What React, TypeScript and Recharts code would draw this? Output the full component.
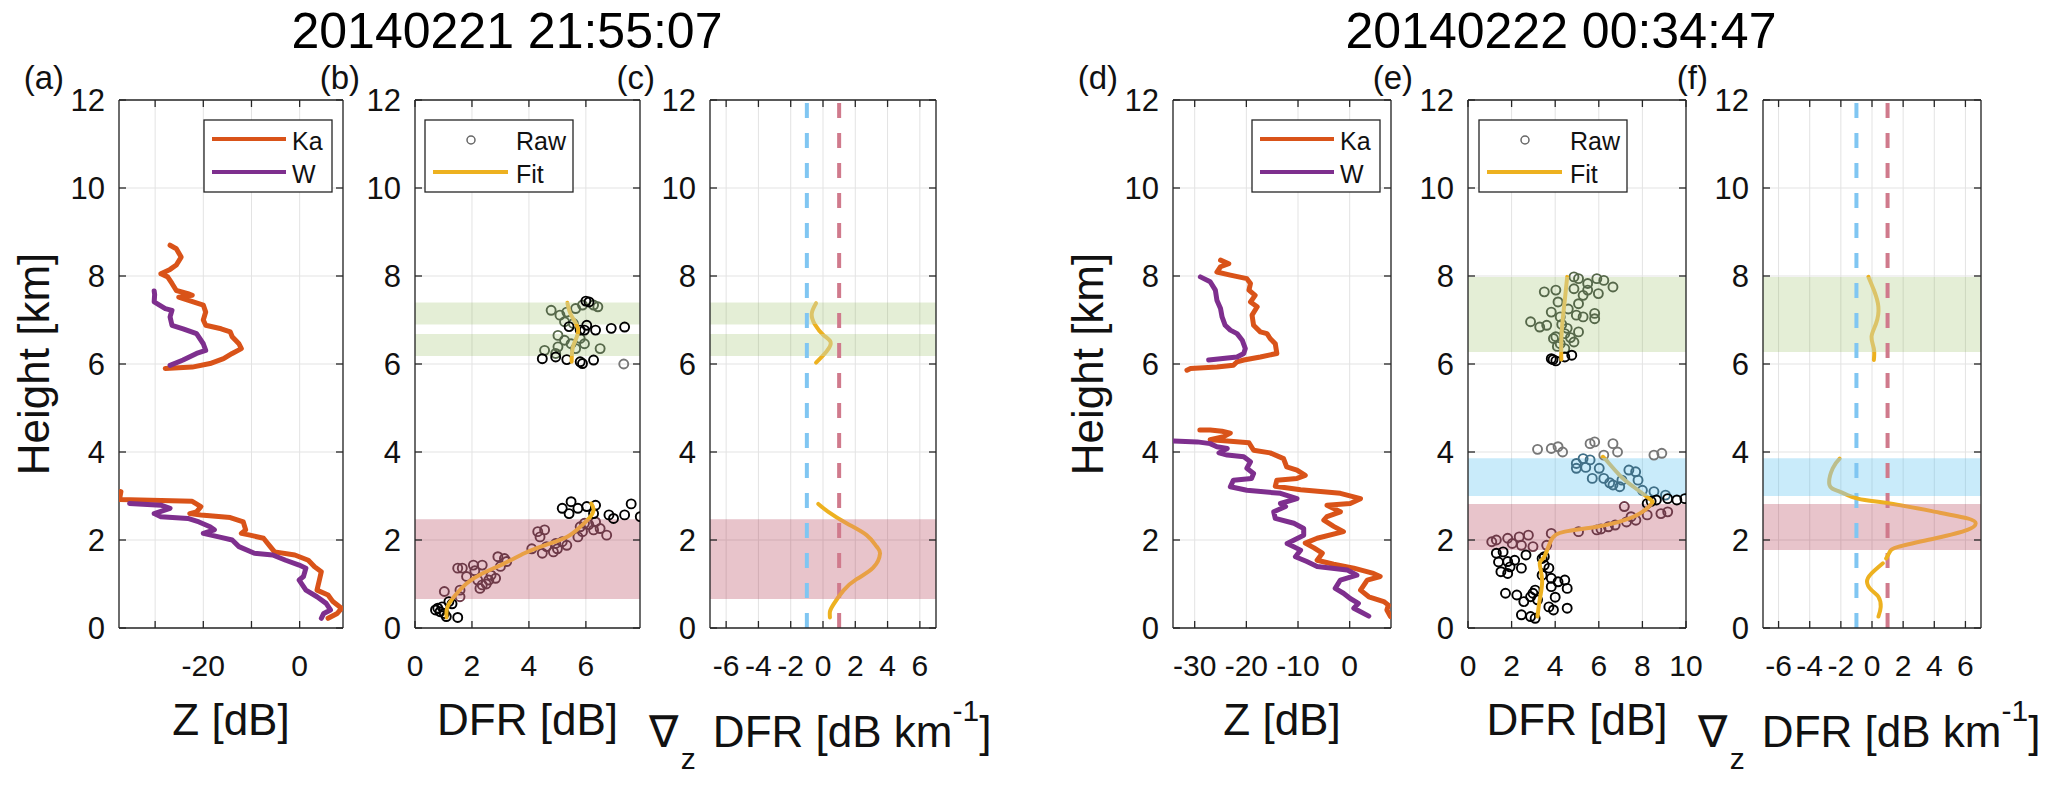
import React from "react";
import { ScatterChart, Scatter, XAxis, YAxis, CartesianGrid, ReferenceArea, ReferenceLine } from "recharts";

type Pt = { x: number; h: number };
const pts = (a: number[][]): Pt[] => a.map(([x, h]) => ({ x, h }));

// height ticks shared by all panels
const heightTicks = [0, 2, 4, 6, 8, 10, 12];

// x ticks / labels per panel
const zTicksA = [-30, -20, -10, 0];
const zLabelsA = ["", "-20", "", "0"];
const dfrTicksB = [0, 2, 4, 6];
const gradTicks = [-6, -4, -2, 0, 2, 4, 6];
const zTicksD = [-30, -20, -10, 0];
const dfrTicksE = [0, 2, 4, 6, 8, 10];
const gradThresholds = [-1, 1];

// (a) reflectivity profiles, 20140221 21:55:07
const kaUpperA = pts([[-26.9,8.70],[-25.6,8.62],[-24.6,8.43],[-25.6,8.25],[-26.9,8.15],[-28.8,8.05],[-27.4,7.98],[-26.5,7.83],[-25.6,7.67],[-23.2,7.60],[-22.3,7.56],[-25.1,7.52],[-23.2,7.45],[-20.0,7.34],[-19.5,7.18],[-20.0,7.00],[-19.5,6.88],[-16.3,6.80],[-14.4,6.73],[-14.0,6.62],[-12.6,6.46],[-12.1,6.35],[-14.0,6.24],[-15.8,6.12],[-18.6,6.01],[-22.3,5.93],[-27.9,5.90]]);
const wUpperA = pts([[-30.2,7.66],[-30.1,7.58],[-30.2,7.41],[-27.9,7.26],[-26.5,7.22],[-26.9,7.07],[-26.5,6.88],[-24.2,6.80],[-21.4,6.69],[-20.0,6.46],[-19.5,6.31],[-21.4,6.24],[-24.2,6.09],[-26.9,5.97]]);
const kaLowerA = pts([[-37.1,3.10],[-37.4,2.92],[-22.3,2.88],[-20.5,2.76],[-21.4,2.64],[-22.8,2.60],[-20.5,2.57],[-14.4,2.51],[-11.7,2.41],[-11.2,2.23],[-12.1,2.15],[-10.3,2.11],[-7.5,2.04],[-6.1,1.85],[-5.2,1.73],[-1.0,1.66],[1.8,1.54],[3.1,1.39],[4.5,1.28],[4.1,1.09],[3.6,0.86],[5.9,0.75],[6.9,0.60],[8.7,0.45],[7.8,0.33],[5.9,0.22]]);
const wLowerA = pts([[-35.3,2.83],[-28.8,2.79],[-26.9,2.72],[-30.2,2.60],[-28.8,2.53],[-23.2,2.49],[-20.9,2.41],[-18.6,2.30],[-17.7,2.23],[-20.0,2.15],[-16.8,2.07],[-14.0,2.00],[-12.6,1.85],[-9.4,1.70],[-5.6,1.66],[-2.9,1.54],[-0.1,1.43],[1.3,1.36],[0.8,1.17],[-0.1,1.09],[1.3,0.86],[3.6,0.71],[5.5,0.56],[6.4,0.41],[5.0,0.33],[4.5,0.22]]);

// (b) DFR raw and fit
const rawB = pts([[0.72,0.41],[0.88,0.37],[1.03,0.33],[1.10,0.26],[1.50,0.24],[0.95,0.48],[1.19,0.60],[1.58,0.71],[1.30,0.55],[0.80,0.45],
  [1.03,0.83],[1.58,0.86],[1.50,1.36],[1.66,1.36],[1.81,1.17],[2.05,1.43],[2.36,1.43],[2.20,1.09],[2.36,0.98],[2.28,0.90],[2.59,1.09],[2.83,1.13],[2.67,1.20],[2.91,1.62],[3.14,1.58],[3.22,1.51],[4.31,2.19],[4.55,2.23],[4.39,2.07],[4.62,1.85],[4.47,1.70],[4.86,1.73],[4.94,1.92],[5.33,1.88],[5.17,1.96],[5.72,2.07],[5.88,2.19],[6.27,2.23],[6.34,2.41],[5.95,2.38],[6.73,2.11],[6.50,2.26],[5.80,2.30],[2.10,1.30],[2.50,1.00],[3.00,1.40],[4.10,1.80],[5.00,1.80],[6.10,2.35],
  [5.17,2.72],[5.48,2.87],[5.41,2.60],[5.72,2.72],[6.03,2.76],[6.34,2.79],[6.81,2.57],[7.36,2.57],[7.59,2.82],[7.91,2.53],[6.97,2.49],[6.27,2.60],
  [4.78,7.22],[5.09,7.11],[5.33,7.18],[5.64,7.26],[5.88,7.34],[6.27,7.34],[6.42,7.30],[5.25,6.96],[5.56,6.92],[5.02,6.65],[5.25,6.54],[5.48,6.46],[5.80,6.58],[5.95,6.46],[5.02,6.39],[4.55,6.31],[4.94,6.24],[6.50,6.35],[5.64,6.35],
  [5.41,6.85],[5.80,6.77],[6.03,6.88],[5.95,6.77],[6.34,6.77],[6.89,6.81],[7.36,6.84],[4.47,6.12],[4.94,6.16],[5.33,6.10],[5.80,6.05],[5.88,6.01],[6.27,6.09],[6.11,7.41],[6.00,7.43]]);
const rawOutB = pts([[7.33,6.00]]);
const fitLowerB = pts([[1.11,0.24],[1.14,0.48],[1.42,0.75],[1.81,1.01],[2.36,1.24],[3.14,1.47],[3.84,1.70],[4.55,1.88],[5.33,2.07],[5.80,2.30],[6.11,2.49],[6.27,2.68],[6.19,2.83]]);
const fitUpperB = pts([[5.35,7.39],[5.49,7.10],[5.73,6.77],[5.56,6.42],[5.50,6.05]]);

// (c) DFR gradient
const gradUpperC = pts([[-0.43,7.38],[-0.70,7.14],[-0.49,6.89],[0.02,6.66],[0.47,6.50],[0.23,6.29],[-0.43,6.03]]);
const gradLowerC = pts([[-0.29,2.82],[0.33,2.64],[1.46,2.38],[2.70,2.11],[3.32,1.85],[3.53,1.69],[3.11,1.37],[2.08,1.11],[1.26,0.85],[0.64,0.53],[0.43,0.37],[0.43,0.24]]);

// (d) reflectivity profiles, 20140222 00:34:47
const kaUpperD = pts([[-25.0,8.36],[-23.4,8.28],[-25.0,8.21],[-25.7,8.09],[-23.1,8.02],[-19.9,7.94],[-19.2,7.83],[-19.5,7.68],[-18.3,7.56],[-19.2,7.41],[-17.9,7.30],[-18.9,7.11],[-18.6,6.88],[-17.3,6.73],[-16.0,6.69],[-15.4,6.58],[-14.4,6.46],[-14.1,6.24],[-17.3,6.16],[-20.5,6.09],[-21.8,6.05],[-22.5,5.97],[-25.7,5.93],[-30.8,5.90],[-31.5,5.86]]);
const wUpperD = pts([[-28.9,7.98],[-27.0,7.87],[-26.0,7.68],[-25.7,7.45],[-25.0,7.26],[-24.7,7.07],[-24.1,6.88],[-23.1,6.77],[-21.8,6.69],[-20.8,6.54],[-20.2,6.35],[-20.5,6.24],[-21.8,6.16],[-27.3,6.09]]);
const kaLowerD = pts([[-29.0,4.50],[-27.0,4.50],[-24.7,4.47],[-23.1,4.43],[-24.4,4.35],[-27.0,4.28],[-23.7,4.25],[-19.5,4.21],[-18.6,4.04],[-15.4,3.98],[-12.8,3.85],[-12.2,3.66],[-10.2,3.59],[-8.6,3.47],[-10.2,3.40],[-14.1,3.36],[-14.4,3.22],[-9.5,3.14],[-1.8,3.06],[2.1,2.94],[0.1,2.83],[-4.4,2.79],[-1.8,2.64],[-4.4,2.53],[-5.0,2.45],[-3.1,2.31],[-1.2,2.19],[-6.3,2.04],[-8.6,1.93],[-6.9,1.82],[-5.3,1.70],[-6.3,1.54],[-3.1,1.45],[0.8,1.36],[4.6,1.24],[5.9,1.17],[3.4,1.09],[2.1,0.86],[3.7,0.71],[6.6,0.60],[7.5,0.52],[7.2,0.41],[7.9,0.26]]);
const wLowerD = pts([[-34.1,4.25],[-29.5,4.23],[-27.0,4.19],[-25.7,4.12],[-23.7,4.08],[-25.3,3.98],[-23.7,3.93],[-20.5,3.89],[-19.2,3.78],[-19.9,3.63],[-18.6,3.51],[-19.0,3.40],[-22.5,3.36],[-23.1,3.21],[-19.9,3.13],[-13.4,3.06],[-10.2,2.94],[-13.4,2.83],[-12.4,2.76],[-14.7,2.64],[-14.4,2.49],[-10.8,2.38],[-8.9,2.26],[-8.9,2.11],[-12.1,1.92],[-9.5,1.77],[-10.5,1.62],[-8.3,1.51],[-6.3,1.40],[-0.5,1.32],[1.4,1.20],[-1.8,1.09],[-2.8,0.90],[-1.2,0.79],[0.1,0.67],[1.7,0.56],[0.8,0.45],[2.1,0.37],[3.7,0.27]]);

// (e) DFR raw and fit
const rawE = pts([[3.50,7.64],[4.03,7.68],[2.87,6.96],[3.29,6.84],[3.61,6.88],[3.82,7.18],[4.13,7.41],[4.23,7.07],[3.92,6.58],[4.23,6.46],[4.44,6.35],[4.55,6.81],[4.86,6.50],[5.07,6.73],[4.97,7.11],[5.28,7.07],[5.81,7.15],[5.81,7.03],[5.07,7.37],[5.28,7.56],[5.49,7.83],[4.86,7.98],[5.07,7.94],[5.91,7.94],[6.23,7.90],[6.65,7.75],[5.98,7.60],[5.49,7.68],[4.86,7.71],[4.44,6.69],[4.03,6.62],[4.30,6.90],[4.60,7.25],[4.10,6.40],[4.70,6.60],
  [3.82,6.12],[4.03,6.07],[4.44,6.16],[4.76,6.20],[3.90,6.10],
  [4.97,3.74],[5.28,3.85],[5.60,3.82],[6.02,3.63],[5.70,3.40],[6.23,3.40],[6.65,3.25],[6.96,3.21],[7.38,3.59],[7.69,3.55],[7.80,3.36],[7.06,3.36],[8.00,3.13],[8.53,3.10],[9.06,3.02],[4.97,3.63],[5.40,3.65],[6.50,3.30],
  [8.22,2.83],[8.64,2.91],[9.16,2.94],[9.58,2.91],[9.95,2.94],[8.40,2.88],
  [7.17,2.76],[7.48,2.53],[7.27,2.41],[8.22,2.57],[8.85,2.60],[9.16,2.64],[6.44,2.30],[6.75,2.34],[5.91,2.23],[5.07,2.19],[3.82,2.15],[1.30,2.00],[1.82,2.04],[2.35,2.07],[2.77,2.11],[2.03,1.92],[2.45,1.88],[2.98,1.85],[3.61,1.88],[1.09,1.96],[7.70,2.45],[6.10,2.25],
  [1.30,1.70],[1.61,1.73],[1.82,1.51],[1.93,1.39],[1.51,1.28],[1.82,1.24],[2.45,1.36],[2.14,1.54],[2.66,1.66],[3.40,1.58],[3.50,1.43],[3.71,1.36],[3.82,1.13],[4.13,1.05],[4.44,1.09],[4.55,0.90],[3.82,0.94],[3.08,0.86],[1.72,0.79],[2.24,0.75],[2.56,0.60],[2.87,0.71],[3.19,0.64],[3.71,0.48],[3.92,0.41],[4.55,0.45],[2.45,0.30],[2.87,0.26],[3.08,0.22],[3.40,1.20],[2.98,0.79],[3.50,1.62],[1.40,1.50],[4.00,0.70]]);
const rawOutE = pts([[3.19,4.06],[3.82,4.08],[4.13,4.12],[4.34,4.00],[5.60,4.19],[5.81,4.23],[6.65,4.19],[6.86,4.00],[8.53,3.93],[8.89,3.97],[6.23,3.93]]);
const fitLowerE = pts([[3.19,0.26],[3.29,0.64],[3.40,1.09],[3.29,1.47],[3.50,1.62],[3.82,2.00],[4.44,2.19],[5.91,2.30],[7.17,2.45],[8.00,2.64],[8.43,2.83],[8.32,2.94],[7.59,3.21],[6.96,3.47],[6.33,3.82],[6.18,3.89]]);
const fitUpperE = pts([[4.55,7.98],[4.44,7.45],[4.34,6.99],[4.28,6.54],[4.28,6.10]]);

// (f) DFR gradient
const gradUpperF = pts([[-0.23,7.98],[0.12,7.68],[0.41,7.30],[0.26,6.92],[-0.03,6.62],[0.12,6.35],[0.12,6.09]]);
const gradMidF = pts([[-2.08,3.85],[-2.52,3.63],[-2.73,3.25],[-2.08,3.10],[-0.91,2.94],[1.14,2.83],[4.08,2.64],[6.13,2.49],[6.66,2.38],[6.13,2.23],[4.08,2.04],[1.73,1.85],[1.14,1.73],[0.91,1.58]]);
const gradLowF = pts([[0.70,1.47],[-0.03,1.24],[-0.32,1.05],[-0.03,0.86],[0.41,0.71],[0.56,0.48],[0.41,0.26]]);

// shaded layers (km)
type Kind = "green" | "red" | "blue";
type Band = { lo: number; hi: number; kind: Kind };
const bandsFirst: Band[] = [
  { lo: 6.18, hi: 6.68, kind: "green" },
  { lo: 6.90, hi: 7.40, kind: "green" },
  { lo: 0.66, hi: 2.47, kind: "red" },
];
const bandsSecond: Band[] = [
  { lo: 6.27, hi: 7.98, kind: "green" },
  { lo: 3.00, hi: 3.86, kind: "blue" },
  { lo: 1.77, hi: 2.82, kind: "red" },
];

const FONT = '"Liberation Sans", Arial, Helvetica, sans-serif';
const KA = "#D95319";
const W = "#7E2F8E";
const FIT = "#EDB120";
const AXIS = "#262626";
const bandFill: Record<Kind, string> = { green: "#77AC30", red: "#A2142F", blue: "#4DBEEE" };
const bandOpacity: Record<Kind, number> = { green: 0.2, red: 0.25, blue: 0.3 };
const pointInBand: Record<Kind, string> = { green: "#56684A", red: "#6E3A48", blue: "#3F6F87" };
const fitInBand: Record<Kind, string> = { green: "#DCC468", red: "#E8A045", blue: "#BCBE8C" };

const PLOT_TOP = 100;
const PLOT_H = 528;
const YW = 120;
const MT = 20;
const MR = 20;
const XH = 140;

type PanelProps = {
  x: number;
  w: number;
  domain: [number, number];
  ticks: number[];
  labels?: string[];
  children?: React.ReactNode;
};

function Panel({ x, w, domain, ticks, labels, children }: PanelProps) {
  const pl = YW;
  const pr = YW + w;
  const pt = MT;
  const pb = MT + PLOT_H;

  const XTick = (p: any) => {
    const v = p.payload.value;
    const i = ticks.indexOf(v);
    const text = labels ? labels[i] : String(v);
    return (
      <g>
        <line x1={p.x} x2={p.x} y1={pb} y2={pb - 7} stroke={AXIS} strokeWidth={1.3} />
        <line x1={p.x} x2={p.x} y1={pt} y2={pt + 7} stroke={AXIS} strokeWidth={1.3} />
        <text x={p.x} y={pb + 48} textAnchor="middle" fontSize={30} fontFamily={FONT} fill="#111">
          {text}
        </text>
      </g>
    );
  };

  const YTick = (p: any) => (
    <g>
      <line x1={pl} x2={pl + 7} y1={p.y} y2={p.y} stroke={AXIS} strokeWidth={1.3} />
      <line x1={pr - 7} x2={pr} y1={p.y} y2={p.y} stroke={AXIS} strokeWidth={1.3} />
      <text x={pl - 14} y={p.y + 11} textAnchor="end" fontSize={31} fontFamily={FONT} fill="#111">
        {p.payload.value}
      </text>
    </g>
  );

  return (
    <div style={{ position: "absolute", left: x - YW, top: PLOT_TOP - MT }}>
      <ScatterChart width={YW + w + MR} height={MT + PLOT_H + XH} margin={{ top: MT, right: MR, bottom: 0, left: 0 }}>
        <CartesianGrid stroke="#E3E3E3" />
        <XAxis
          type="number"
          dataKey="x"
          domain={domain}
          ticks={ticks}
          interval={0}
          height={XH}
          allowDataOverflow
          tickLine={false}
          axisLine={{ stroke: AXIS, strokeWidth: 1.3 }}
          tick={XTick}
        />
        <YAxis
          type="number"
          dataKey="h"
          domain={[0, 12]}
          ticks={heightTicks}
          interval={0}
          width={YW}
          allowDataOverflow
          tickLine={false}
          axisLine={{ stroke: AXIS, strokeWidth: 1.3 }}
          tick={YTick}
        />
        {children}
        <ReferenceLine y={12} stroke={AXIS} strokeWidth={1.3} />
        <ReferenceLine x={domain[1]} stroke={AXIS} strokeWidth={1.3} />
      </ScatterChart>
    </div>
  );
}

const noDot = () => <g />;

const profile = (data: Pt[], color: string, width: number, joint: "linear" | "natural", key: string, stroke?: string) => (
  <Scatter
    key={key}
    data={data}
    fill={color}
    line={{ stroke: stroke || color, strokeWidth: width, strokeLinejoin: "round", strokeLinecap: "round" }}
    lineJointType={joint}
    shape={noDot}
    isAnimationActive={false}
  />
);

const bandAreas = (bands: Band[]) =>
  bands.map((b, i) => (
    <ReferenceArea
      key={"band" + i}
      y1={b.lo}
      y2={b.hi}
      fill={bandFill[b.kind]}
      fillOpacity={bandOpacity[b.kind]}
      stroke="none"
    />
  ));

const rawPoints = (data: Pt[], bands: Band[], outlier: boolean, key: string) => {
  const colorOf = (h: number) => {
    if (outlier) return "#777777";
    const b = bands.find((bb) => h >= bb.lo && h <= bb.hi);
    return b ? pointInBand[b.kind] : "#000000";
  };
  const shape = (p: any) => (
    <circle cx={p.cx} cy={p.cy} r={4.5} fill="none" stroke={colorOf(p.payload.h)} strokeWidth={1.9} />
  );
  return <Scatter key={key} data={data} fill="#000" shape={shape} isAnimationActive={false} />;
};

const thresholdLines = () => [
  <ReferenceLine key="t0" x={gradThresholds[0]} stroke="#80C6F2" strokeWidth={4} strokeDasharray="15 15" />,
  <ReferenceLine key="t1" x={gradThresholds[1]} stroke="#D07A8C" strokeWidth={4} strokeDasharray="15 15" />,
];

// fit line tinted where it passes under a shaded layer (vertical gradient in chart space)
function FitGradient({ id, bands }: { id: string; bands: Band[] }) {
  const off = (h: number) => (12 - h) / 12;
  const sorted = [...bands].sort((a, b) => b.hi - a.hi);
  const stops: { o: number; c: string }[] = [{ o: 0, c: FIT }];
  sorted.forEach((b) => {
    const c = fitInBand[b.kind];
    stops.push({ o: off(b.hi), c: FIT }, { o: off(b.hi), c }, { o: off(b.lo), c }, { o: off(b.lo), c: FIT });
  });
  stops.push({ o: 1, c: FIT });
  return (
    <linearGradient id={id} gradientUnits="userSpaceOnUse" x1={0} y1={MT} x2={0} y2={MT + PLOT_H}>
      {stops.map((s, i) => (
        <stop key={i} offset={s.o} stopColor={s.c} />
      ))}
    </linearGradient>
  );
}

// plot rectangles (px)
const PX = { a: 119, b: 415, c: 710, d: 1173, e: 1468, f: 1763 };
const PW = { a: 224, b: 225, c: 226, d: 218, e: 218, f: 218 };

function Overlay() {
  const t = { fontFamily: FONT, fill: "#111" };
  const center = (k: keyof typeof PX) => PX[k] + PW[k] / 2;
  const xLabel = (k: keyof typeof PX, s: string) => (
    <text key={"xl" + k} x={center(k)} y={735} textAnchor="middle" fontSize={44} {...t}>{s}</text>
  );
  const gradLabel = (k: keyof typeof PX) => (
    <text key={"gl" + k} x={center(k) - 3} y={747} textAnchor="middle" fontSize={44} {...t}>
      <tspan>∇</tspan>
      <tspan fontSize={30} dx={3} dy={22}>z</tspan>
      <tspan dx={5} dy={-22}> DFR [dB km</tspan>
      <tspan fontSize={30} dy={-26}>-1</tspan>
      <tspan dy={26}>]</tspan>
    </text>
  );
  const letter = (k: keyof typeof PX) => (
    <text key={"lt" + k} x={PX[k] - 55} y={89} textAnchor="end" fontSize={33} {...t}>({k})</text>
  );
  const yLabel = (xx: number, key: string) => (
    <text key={key} x={xx} y={364} textAnchor="middle" fontSize={44} transform={`rotate(-90 ${xx} 364)`} {...t}>
      Height [km]
    </text>
  );
  const zLegend = (bx: number) => (
    <g key={"zl" + bx}>
      <rect x={bx} y={120} width={128} height={72} fill="#fff" stroke={AXIS} strokeWidth={1.3} />
      <line x1={bx + 8} x2={bx + 82} y1={139} y2={139} stroke={KA} strokeWidth={4} />
      <text x={bx + 88} y={149.5} fontSize={25} {...t}>Ka</text>
      <line x1={bx + 8} x2={bx + 82} y1={172} y2={172} stroke={W} strokeWidth={4} />
      <text x={bx + 88} y={182.5} fontSize={25} {...t}>W</text>
    </g>
  );
  const fitLegend = (bx: number) => (
    <g key={"fl" + bx}>
      <rect x={bx} y={120} width={148} height={72} fill="#fff" stroke={AXIS} strokeWidth={1.3} />
      <circle cx={bx + 46} cy={140} r={4} fill="none" stroke="#666" strokeWidth={1.5} />
      <text x={bx + 91} y={149.5} fontSize={25} {...t}>Raw</text>
      <line x1={bx + 8} x2={bx + 83} y1={172} y2={172} stroke={FIT} strokeWidth={4} />
      <text x={bx + 91} y={182.5} fontSize={25} {...t}>Fit</text>
    </g>
  );
  return (
    <svg width={2067} height={789} style={{ position: "absolute", left: 0, top: 0, pointerEvents: "none" }}>
      <text x={507} y={48} textAnchor="middle" fontSize={50} fontFamily={FONT} fill="#000">20140221 21:55:07</text>
      <text x={1561} y={48} textAnchor="middle" fontSize={50} fontFamily={FONT} fill="#000">20140222 00:34:47</text>
      {(["a", "b", "c", "d", "e", "f"] as const).map(letter)}
      {yLabel(49, "yla")}
      {yLabel(1103, "yld")}
      {xLabel("a", "Z [dB]")}
      {xLabel("b", "DFR [dB]")}
      {gradLabel("c")}
      {xLabel("d", "Z [dB]")}
      {xLabel("e", "DFR [dB]")}
      {gradLabel("f")}
      {zLegend(204)}
      {fitLegend(425)}
      {zLegend(1252)}
      {fitLegend(1479)}
    </svg>
  );
}

export default function App() {
  return (
    <div style={{ position: "absolute", left: 0, top: 0, width: 2067, height: 789, background: "#fff", overflow: "hidden" }}>
      <svg width={0} height={0} style={{ position: "absolute" }}>
        <defs>
          <FitGradient id="fitFirst" bands={bandsFirst} />
          <FitGradient id="fitSecond" bands={bandsSecond} />
        </defs>
      </svg>
      <Panel x={PX.a} w={PW.a} domain={[-37.5, 9]} ticks={zTicksA} labels={zLabelsA}>
        {profile(kaUpperA, KA, 5, "linear", "ka1")}
        {profile(kaLowerA, KA, 5, "linear", "ka2")}
        {profile(wUpperA, W, 5, "linear", "w1")}
        {profile(wLowerA, W, 5, "linear", "w2")}
      </Panel>
      <Panel x={PX.b} w={PW.b} domain={[0, 7.9]} ticks={dfrTicksB}>
        {bandAreas(bandsFirst)}
        {rawPoints(rawB, bandsFirst, false, "rb")}
        {rawPoints(rawOutB, bandsFirst, true, "rbo")}
        {profile(fitLowerB, FIT, 4, "natural", "fb1", "url(#fitFirst)")}
        {profile(fitUpperB, FIT, 4, "natural", "fb2", "url(#fitFirst)")}
      </Panel>
      <Panel x={PX.c} w={PW.c} domain={[-7, 7]} ticks={gradTicks}>
        {bandAreas(bandsFirst)}
        {thresholdLines()}
        {profile(gradUpperC, FIT, 4, "natural", "gc1", "url(#fitFirst)")}
        {profile(gradLowerC, FIT, 4, "natural", "gc2", "url(#fitFirst)")}
      </Panel>
      <Panel x={PX.d} w={PW.d} domain={[-34.2, 8]} ticks={zTicksD}>
        {profile(kaUpperD, KA, 5, "linear", "kd1")}
        {profile(kaLowerD, KA, 5, "linear", "kd2")}
        {profile(wUpperD, W, 5, "linear", "wd1")}
        {profile(wLowerD, W, 5, "linear", "wd2")}
      </Panel>
      <Panel x={PX.e} w={PW.e} domain={[0, 10]} ticks={dfrTicksE}>
        {bandAreas(bandsSecond)}
        {rawPoints(rawE, bandsSecond, false, "re")}
        {rawPoints(rawOutE, bandsSecond, true, "reo")}
        {profile(fitLowerE, FIT, 4, "natural", "fe1", "url(#fitSecond)")}
        {profile(fitUpperE, FIT, 4, "natural", "fe2", "url(#fitSecond)")}
      </Panel>
      <Panel x={PX.f} w={PW.f} domain={[-7, 7]} ticks={gradTicks}>
        {bandAreas(bandsSecond)}
        {thresholdLines()}
        {profile(gradUpperF, FIT, 4, "natural", "gf1", "url(#fitSecond)")}
        {profile(gradMidF, FIT, 4, "natural", "gf2", "url(#fitSecond)")}
        {profile(gradLowF, FIT, 4, "natural", "gf3", "url(#fitSecond)")}
      </Panel>
      <Overlay />
    </div>
  );
}
